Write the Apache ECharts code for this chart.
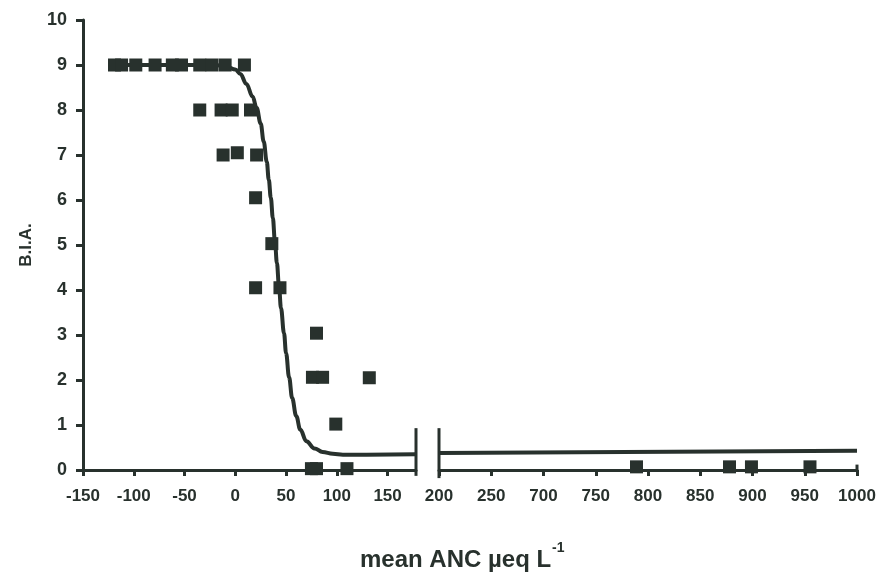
<!DOCTYPE html>
<html>
<head>
<meta charset="utf-8">
<script src="https://cdn.jsdelivr.net/npm/echarts@6/dist/echarts.min.js"></script>
<style>
html,body{margin:0;padding:0;background:#fff;}
#c{width:879px;height:576px;}
</style>
</head>
<body>
<div id="c"></div>
<script>
// ---- data ----
// Left panel observations (mean ANC, B.I.A.)
var leftObsX = [-119, -112, -98, -79, -62, -53, -35, -23, -10, 9,
                -35, -14, -3, 15,
                -12, 2, 21,
                20,
                36,
                20, 44,
                80,
                76, 86, 132,
                99,
                75, 80, 110];
var leftObsY = [9, 9, 9, 9, 9, 9, 9, 9, 9, 9,
                8, 8, 8, 8,
                7, 7.05, 7,
                6.05,
                5.03,
                4.05, 4.05,
                3.04,
                2.06, 2.06, 2.05,
                1.02,
                0.03, 0.03, 0.03];
// Right panel observations
var rightObsX = [789, 878, 899, 955];
var rightObsY = [0.07, 0.07, 0.07, 0.07];
// Fitted curve (left panel)
var curveLeftX = [-120, -100, -50, -20, -8, 0, 5, 11, 17, 21, 25, 28, 31, 33, 35, 37, 39, 41, 43, 45, 48, 50, 53, 56, 60, 64, 70, 78, 86, 96, 106, 178];
var curveLeftY = [9, 9, 9, 9, 8.96, 8.9, 8.8, 8.58, 8.3, 8.05, 7.7, 7.3, 6.85, 6.45, 6.05, 5.6, 5.1, 4.6, 4.1, 3.6, 3.04, 2.6, 2.06, 1.6, 1.2, 0.9, 0.64, 0.48, 0.4, 0.36, 0.34, 0.35];
// Fitted curve (right panel)
var curveRightX = [600, 1000];
var curveRightY = [0.38, 0.43];
// Axis ranges / ticks
var leftXMin = -150, leftXMax = 178, xInterval = 50;
var rightXMin = 600, rightXMax = 1000;
var yMin = 0, yMax = 10, yInterval = 1;
// Tick labels that were overprinted in the reference
var relabel = {600: '200', 650: '250'};
var yTitle = 'B.I.A.';

// ---- chart ----
var ink = '#28312d';
var FF = '"Liberation Sans", Arial, sans-serif';
function zip(a, b) { return a.map(function (v, i) { return [v, b[i]]; }); }

var chart = echarts.init(document.getElementById('c'), null, {renderer: 'canvas'});
var labelStyle = {color: ink, fontWeight: 'bold', fontFamily: FF, fontSize: 17};
var option = {
  animation: false,
  backgroundColor: '#fff',
  grid: [
    {left: 83, top: 20, width: 333, height: 450},
    {left: 439, top: 20, width: 418, height: 450}
  ],
  xAxis: [
    {
      gridIndex: 0, type: 'value', min: leftXMin, max: leftXMax, interval: xInterval,
      axisLine: {onZero: false, lineStyle: {color: ink, width: 3}},
      axisTick: {length: 6, lineStyle: {color: ink, width: 3}},
      splitLine: {show: false},
      axisLabel: Object.assign({margin: 18, showMaxLabel: false,
        formatter: function (v) { return (v % 50 === 0) ? String(v) : ''; }}, labelStyle)
    },
    {
      gridIndex: 1, type: 'value', min: rightXMin, max: rightXMax, interval: xInterval,
      axisLine: {onZero: false, lineStyle: {color: ink, width: 3}},
      axisTick: {length: 6, lineStyle: {color: ink, width: 3}},
      splitLine: {show: false},
      axisLabel: Object.assign({margin: 18,
        formatter: function (v) { return relabel[v] !== undefined ? relabel[v] : String(v); }}, labelStyle)
    }
  ],
  yAxis: [
    {
      gridIndex: 0, type: 'value', min: yMin, max: yMax, interval: yInterval,
      name: yTitle, nameLocation: 'middle', nameGap: 48, nameRotate: 90,
      nameTextStyle: {color: ink, fontWeight: 'bold', fontFamily: FF, fontSize: 17},
      axisLine: {show: true, onZero: false, lineStyle: {color: ink, width: 3}},
      axisTick: {show: true, length: 7, lineStyle: {color: ink, width: 3}},
      splitLine: {show: false},
      axisLabel: {margin: 16, color: ink, fontWeight: 'bold', fontFamily: FF, fontSize: 18}
    },
    {
      gridIndex: 1, type: 'value', min: yMin, max: yMax, interval: yInterval,
      show: false
    }
  ],
  series: [
    {
      type: 'line', xAxisIndex: 0, yAxisIndex: 0, data: zip(curveLeftX, curveLeftY),
      showSymbol: false, smooth: 0.4, smoothMonotone: 'x', lineStyle: {color: ink, width: 4}, z: 2
    },
    {
      type: 'line', xAxisIndex: 1, yAxisIndex: 1, data: zip(curveRightX, curveRightY),
      showSymbol: false, lineStyle: {color: ink, width: 4}, z: 2
    },
    {
      type: 'scatter', xAxisIndex: 0, yAxisIndex: 0, data: zip(leftObsX, leftObsY),
      symbol: 'rect', symbolSize: 13, itemStyle: {color: ink, opacity: 1}, clip: false, z: 3
    },
    {
      type: 'scatter', xAxisIndex: 1, yAxisIndex: 1, data: zip(rightObsX, rightObsY),
      symbol: 'rect', symbolSize: 13, itemStyle: {color: ink, opacity: 1}, clip: false, z: 3
    }
  ]
};
chart.setOption(option);

// axis break marks and end cap, positioned through the axes
var a1 = chart.convertToPixel({gridIndex: 0}, [leftXMax, 0.93]);
var a2 = chart.convertToPixel({gridIndex: 0}, [leftXMax, -0.13]);
var b1 = chart.convertToPixel({gridIndex: 1}, [rightXMin, 0.93]);
var b2 = chart.convertToPixel({gridIndex: 1}, [rightXMin, -0.18]);
var c1 = chart.convertToPixel({gridIndex: 1}, [rightXMax, 0.12]);
var c2 = chart.convertToPixel({gridIndex: 1}, [rightXMax, 0]);
chart.setOption({
  graphic: [
    {type: 'line', shape: {x1: a1[0], y1: a1[1], x2: a2[0], y2: a2[1]}, style: {stroke: ink, lineWidth: 3}, z: 10},
    {type: 'line', shape: {x1: b1[0], y1: b1[1], x2: b2[0], y2: b2[1]}, style: {stroke: ink, lineWidth: 3}, z: 10},
    {type: 'line', shape: {x1: c1[0], y1: c1[1], x2: c2[0], y2: c2[1]}, style: {stroke: ink, lineWidth: 3}, z: 10},
    {type: 'text', left: 360, top: 548, z: 10,
     style: {text: 'mean ANC µeq L', fill: ink, font: 'bold 24px ' + FF}},
    {type: 'text', left: 552, top: 541, z: 10,
     style: {text: '-1', fill: ink, font: 'bold 14px ' + FF}}
  ]
});
</script>
</body>
</html>
